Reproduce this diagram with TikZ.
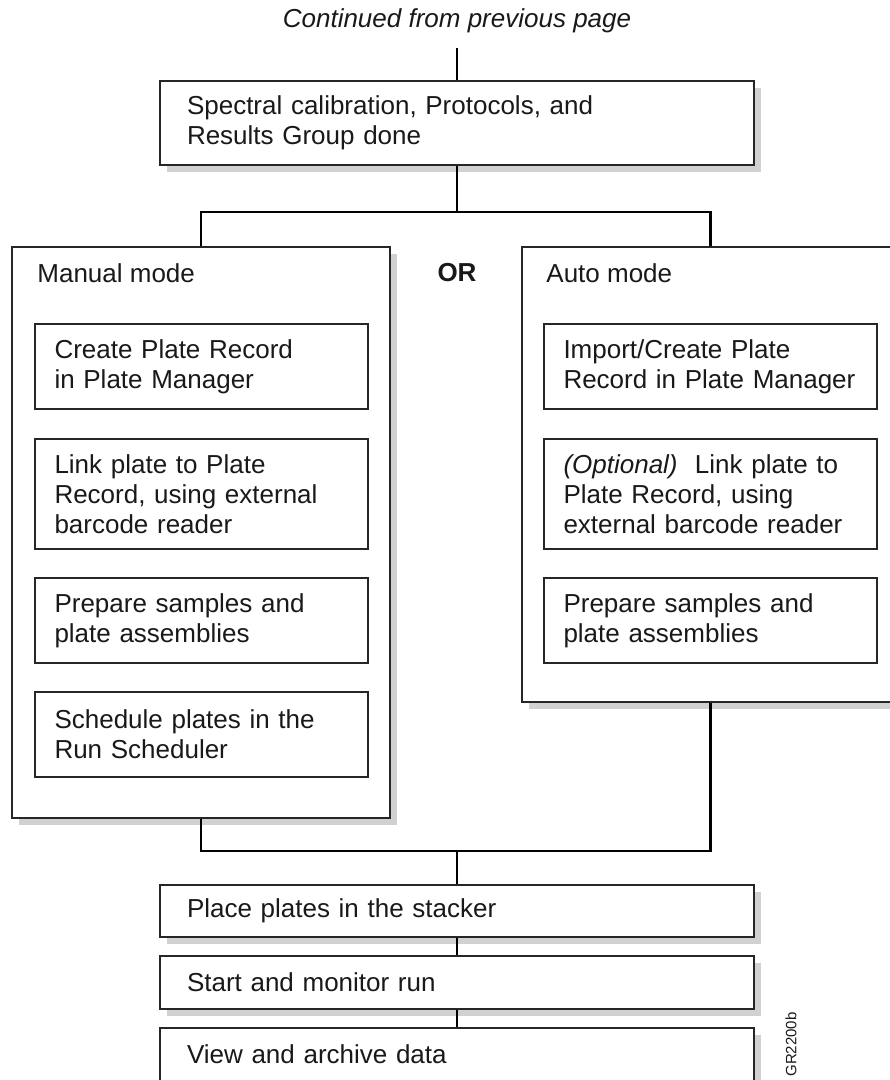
\documentclass[tikz,border=0pt]{standalone}
\usepackage{fontspec}
\setmainfont{Liberation Sans}
\usetikzlibrary{shadows}

\begin{document}
\begin{tikzpicture}[x=0.5pt,y=-0.5pt,
  every node/.style={font=\fontsize{13}{15}\selectfont, text=black!90},
  stepbox/.style={draw=black!85, line width=0.8pt, fill=white, align=left, inner ysep=0pt},
  shadowed/.style={drop shadow={shadow xshift=3.5pt, shadow yshift=-3.5pt, fill=black!18, opacity=1}},
  wide/.style={text width=270pt, inner xsep=13.5pt},
  narrow/.style={text width=147pt, inner xsep=9.75pt},
  link/.style={line width=1.4pt, black}]
\useasboundingbox (0,0) rectangle (889,1080);

% kop
\node (cont) at (457,28) [anchor=base, font=\fontsize{13}{15}\selectfont\itshape] {Continued from previous page};
\node (top) at (457,123) [stepbox, shadowed, wide, minimum height=42pt] {Spectral calibration, Protocols, and\\Results Group done};

% twee modi
\node (manual) at (201,532.5) [stepbox, shadowed, minimum width=189pt, minimum height=285.5pt] {};
\node (auto) at (710.5,474.5) [stepbox, shadowed, minimum width=188.5pt, minimum height=227.5pt] {};
\node (manualLbl) at (37,283) [anchor=base west, inner sep=0pt] {Manual mode};
\node (autoLbl) at (546,283) [anchor=base west, inner sep=0pt] {Auto mode};
\node (or) at (457,282) [anchor=base, inner sep=0pt, font=\fontsize{13}{15}\selectfont\bfseries] {OR};

% stappen manual
\node (m1) at (201.5,366.5) [stepbox, narrow, minimum height=42.5pt] {Create Plate Record\\in Plate Manager};
\node (m2) at (201.5,494) [stepbox, narrow, minimum height=55pt] {Link plate to Plate\\Record, using external\\barcode reader};
\node (m3) at (201.5,620.5) [stepbox, narrow, minimum height=42.5pt] {Prepare samples and\\plate assemblies};
\node (m4) at (201.5,734.5) [stepbox, narrow, minimum height=42.5pt] {Schedule plates in the\\Run Scheduler};

% stappen auto
\node (a1) at (710.5,366.5) [stepbox, narrow, minimum height=42.5pt] {Import/Create Plate\\Record in Plate Manager};
\node (a2) at (710.5,494) [stepbox, narrow, minimum height=55pt] {\textit{(Optional)}\ \ Link plate to\\Plate Record, using\\external barcode reader};
\node (a3) at (710.5,620.5) [stepbox, narrow, minimum height=42.5pt] {Prepare samples and\\plate assemblies};

% onderaan
\node (place) at (457,911) [stepbox, shadowed, wide, minimum height=26pt] {Place plates in the stacker};
\node (start) at (457,982.5) [stepbox, shadowed, wide, minimum height=26.5pt] {Start and monitor run};
\node (view) at (457,1054.5) [stepbox, shadowed, wide, minimum height=26.5pt] {View and archive data};

\node (figId) at (791,1012) [rotate=90, anchor=east, inner sep=0pt, font=\fontsize{7.5}{9}\selectfont] {GR2200b};

% verbindingen
\coordinate (contEnd) at (457,48);
\coordinate (split) at (457,212);
\coordinate (merge) at (457,851);
\draw [link] (contEnd) -- (top.north);
\draw [link] (top.south) -- (split);
\draw [link] (manual.north) |- (split) -| (auto.north);
\draw [link] (manual.south) |- (merge) -| (auto.south);
\draw [link] (merge) -- (place.north);
\draw [link] (place.south) -- (start.north);
\draw [link] (start.south) -- (view.north);

\end{tikzpicture}
\end{document}
